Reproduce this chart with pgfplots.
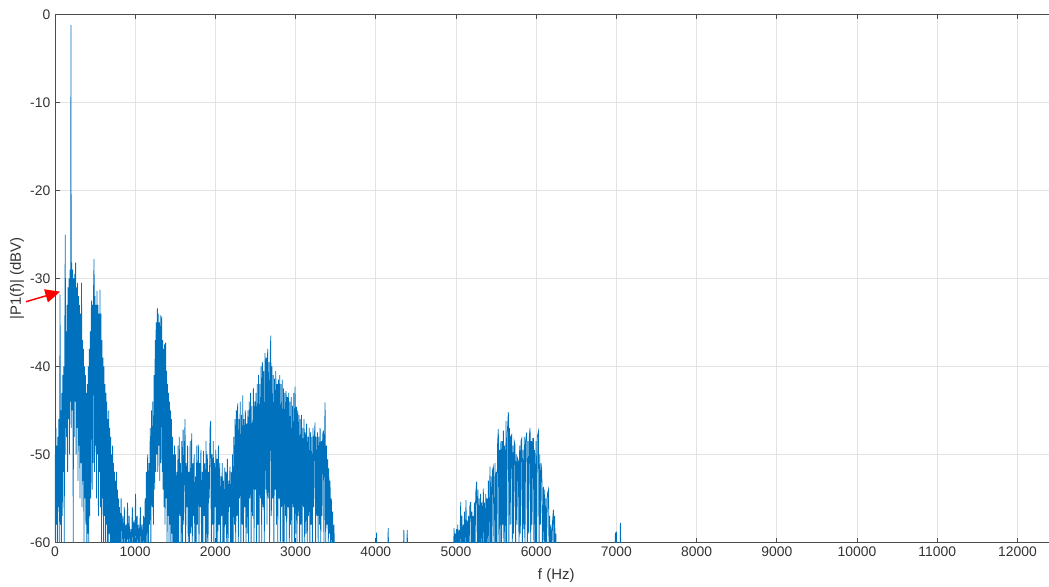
\documentclass[border=0pt]{standalone}
\usepackage{fontspec}
\setmainfont{Liberation Sans}
\usepackage{pgfplots}
\pgfplotsset{compat=1.18}
\usetikzlibrary{arrows.meta}
\definecolor{mblue}{RGB}{0,114,189}
\begin{document}
\begin{tikzpicture}
\path[use as bounding box, clip] (-41.2pt,-33.5pt) rectangle (745.5pt,406.7pt);
\begin{axis}[
  at={(0,0)}, anchor=south west,
  scale only axis, width=751.9pt, height=395.7pt,
  xmin=0, xmax=12500, ymin=-60, ymax=0,
  xtick={0,1000,...,12000}, ytick={-60,-50,...,0},
  scaled ticks=false,
  /pgf/number format/1000 sep={},
  /pgf/number format/assume math mode=true,
  grid=major, major grid style={color=black!11, line width=0.5pt},
  axis line style={color=black!70, line width=0.6pt},
  tick align=inside, major tick length=3.5pt,
  tick style={color=black!70, line width=0.6pt},
  tick label style={font=\fontsize{10.4}{12}\selectfont, color=black!80},
  label style={font=\fontsize{11.2}{13}\selectfont, color=black!80},
  xlabel={f (Hz)}, ylabel={|P1(f)| (dBV)},
  xlabel style={at={(axis description cs:0.5,0)}, anchor=center, yshift=-25.3pt},
  ylabel style={at={(axis description cs:0,0.5)}, anchor=center, yshift=28.5pt},
  clip mode=individual,
]
\addplot[color=mblue, line width=0.58pt, mark=none] coordinates {
(0,-50)(6,-60.5)(12,-47)(18,-58)(24,-49)(30,-61)(36,-48)(42,-56)(48,-46)(54,-60.5)(60,-44)(64,-31.8)(68,-58)(74,-45)(80,-60.5)(86,-43)(92,-57)(98,-41)(104,-52)(110,-40)(116,-60.5)(122,-38)(129,-25)(134,-50)(140,-36)(146,-48)(152,-33)(158,-52)(164,-31)(170,-46)(176,-30)(182,-50)(188,-29)(194,-44)(200,-1.2)(204,-47)(210,-28.2)(216,-45)(222,-29)(228,-60.5)(234,-30)(240,-48)(246,-29.5)(252,-44)(258,-28.2)(264,-50)(270,-31)(276,-47)(282,-30.5)(288,-53)(294,-32)(300,-49)(306,-33)(312,-55)(318,-34)(324,-51)(332,-30.5)(338,-56)(344,-37)(350,-53)(356,-38)(362,-60.5)(368,-40)(374,-55)(380,-41)(386,-58)(392,-43)(398,-60.5)(404,-42)(410,-59)(416,-40)(422,-61)(428,-38)(434,-57)(440,-36)(446,-55)(452,-34)(458,-32.5)(464,-54)(470,-33)(476,-51)(482,-31)(488,-27.8)(494,-52)(500,-32)(506,-49)(512,-33)(518,-55)(524,-31.4)(530,-50)(536,-33)(542,-57)(548,-34)(554,-52)(562,-31.3)(568,-56)(575,-34)(581,-60.5)(587,-37)(593,-55)(599,-39)(605,-60.5)(611,-40)(617,-57)(623,-42)(629,-61)(635,-43)(641,-58)(647,-44)(653,-60.5)(659,-46)(665,-61)(671,-45)(677,-59)(683,-47)(689,-61)(695,-48)(701,-60.5)(707,-50)(713,-61)(719,-49)(725,-60.5)(731,-51)(737,-61)(743,-52)(749,-60.5)(755,-53)(761,-61)(767,-52)(773,-60.5)(779,-54)(785,-61)(791,-55)(797,-60.5)
(805,-56)(815,-61)(825,-55)(835,-60.5)(845,-57)(855,-61)(865,-56)(875,-61)(885,-58)(895,-60.5)(905,-55.5)(915,-61)(925,-57)(935,-61)(945,-58.5)(955,-60.5)(965,-56)(975,-61)(985,-57.5)(995,-61)(1005,-54.5)(1015,-61)(1025,-57)(1035,-61)(1045,-58)(1055,-60.5)(1065,-56)(1075,-61)(1085,-58)(1095,-61)(1105,-57)(1115,-61)(1125,-55)
(1132,-61)(1140,-52)(1148,-60.5)(1156,-50)(1164,-61)(1172,-51)(1180,-58)(1188,-47)(1196,-60.5)(1204,-45)(1212,-56)(1220,-44)(1228,-58)(1236,-41)(1244,-54)(1250,-37)(1256,-52)(1262,-35)(1268,-50)(1277,-33.4)(1283,-52)(1289,-34)(1295,-49)(1301,-35)(1307,-53)(1313,-34.2)(1319,-51)(1325,-36)(1331,-34.3)(1337,-52)(1343,-37)(1349,-54)(1355,-38)(1361,-56)(1367,-37.5)(1373,-58)(1380,-37.3)(1386,-55)(1392,-40.5)(1398,-60.5)(1404,-42)(1410,-57)(1416,-43)(1422,-61)(1428,-44)(1434,-58)(1440,-45)(1446,-61)(1452,-46)(1458,-59)(1464,-48)(1470,-61)(1477,-50)(1483,-60.5)(1490,-49)(1497,-61)
(1503,-50)(1510,-61)(1518,-52)(1526,-60.5)(1534,-49)(1542,-61)(1550,-48)(1558,-57)(1566,-51)(1574,-61)(1582,-48.5)(1590,-60.5)(1598,-47.2)(1606,-58)(1614,-50)(1622,-46)(1630,-61)(1638,-51)(1646,-56)(1654,-49)(1662,-61)(1670,-52)(1678,-60.5)(1686,-48.5)(1694,-59)(1705,-47.6)(1712,-61)(1720,-51)(1728,-57)(1736,-50)(1744,-61)(1752,-52.5)(1760,-60.5)(1768,-49)(1776,-58)(1788,-48.9)(1796,-61)(1804,-51)(1812,-56)(1820,-49.5)(1828,-61)(1836,-52)(1844,-60.5)(1852,-49.6)(1860,-57)(1868,-51)(1876,-61)(1884,-48.5)(1892,-60)(1900,-50)(1908,-61)(1916,-52)(1924,-55)(1934,-47)(1942,-46.2)(1950,-61)(1958,-50)(1966,-58)(1974,-48.5)(1982,-61)(1990,-51)(1998,-56)(2006,-49.5)(2014,-61)(2022,-50.5)(2030,-60.5)(2038,-49)(2046,-58)(2054,-51)(2062,-61)(2070,-52.5)(2078,-57)(2086,-51)(2094,-60.5)(2102,-53)(2110,-61)(2118,-51.5)(2126,-58)(2134,-52)(2142,-61)(2150,-50.5)(2158,-60.5)(2166,-53)(2174,-56)(2182,-51.4)(2190,-61)(2198,-52)(2206,-60)(2214,-50)(2222,-61)(2230,-48)(2238,-58)(2246,-46)(2254,-61)
(2262,-45)(2270,-57)(2278,-44.2)(2286,-61)(2294,-46)(2302,-55)(2310,-44)(2318,-60.5)(2326,-45.5)(2334,-58)(2342,-43.3)(2350,-61)(2358,-46)(2366,-56)(2374,-45)(2382,-61)(2390,-46.5)(2398,-59)(2406,-45)(2414,-61)(2422,-44)(2430,-55)(2438,-43)(2446,-60.5)(2454,-44.5)(2462,-57)(2474,-42.5)(2482,-61)(2490,-44)(2498,-54)(2506,-43)(2514,-60.5)(2522,-42)(2530,-58)(2538,-41)(2546,-61)(2554,-42)(2562,-55)(2570,-40)(2578,-60.5)(2586,-39.5)(2594,-56)(2602,-40.5)(2610,-61)(2620,-38.5)(2628,-54)(2636,-39)(2644,-58)(2652,-38)(2660,-55)(2668,-39.5)(2676,-60.5)(2684,-38.8)(2691,-36.5)(2698,-57)(2706,-40)(2714,-55)(2722,-41)(2730,-61)(2738,-41.4)(2746,-54)(2754,-40.5)(2762,-58)(2770,-42)(2778,-60.5)(2786,-41.5)(2794,-55)(2802,-41)(2810,-61)(2818,-42)(2826,-56)(2834,-41.5)(2842,-60)(2850,-42.5)(2858,-61)(2866,-43)(2874,-57)(2882,-42.8)(2890,-60.5)(2898,-43.5)(2906,-56)(2914,-43)(2922,-61)(2930,-44)(2938,-58)(2946,-43.5)(2954,-60.5)(2962,-44.5)(2970,-56)(2978,-43)(2986,-61)(2994,-42.3)(3002,-59)(3010,-44.6)(3018,-60.5)(3026,-45)(3034,-57)(3042,-45.5)(3050,-61)(3058,-46)(3066,-58)(3074,-45.5)(3082,-60.5)(3090,-47)(3098,-56)(3106,-46)(3114,-61)(3122,-47.5)(3130,-59)(3138,-46.5)(3146,-60.5)(3154,-48)(3162,-57)(3170,-47)(3178,-61)(3186,-47.5)(3194,-58)(3202,-48)(3210,-60.5)(3218,-47)(3226,-56)(3234,-48)(3243,-46.4)(3250,-61)(3258,-48)(3266,-57)(3274,-47.5)(3282,-60.5)(3290,-48)(3298,-58)(3306,-47)(3314,-61)(3322,-48.5)(3330,-57)(3338,-47.8)(3347,-47.3)(3354,-60.5)(3362,-48)(3368,-44.1)(3376,-61)(3384,-49)(3392,-58)(3400,-50.5)(3408,-61)(3414,-51.6)(3422,-59)(3430,-53)(3438,-61)(3446,-55)(3454,-60.5)(3462,-56.5)(3470,-61)(3478,-58)(3486,-61)
(3600,-61)(4005,-61)(4010,-58.9)(4015,-61)(4150,-61)(4155,-58.4)(4160,-61)(4345,-61)(4350,-58.6)(4355,-61)(4387,-61)(4392,-58.6)(4397,-61)(4960,-61)
(4970,-61)(4976,-58.4)(4982,-61)(4990,-59)(4998,-61)(5006,-58.5)(5014,-61)(5022,-58)(5030,-61)(5040,-58.6)(5048,-61)(5059,-55.4)(5066,-61)(5074,-57)(5082,-61)(5090,-58)(5098,-61)(5106,-56.5)(5114,-61)(5125,-55.2)(5132,-61)(5140,-57.5)(5148,-61)(5156,-57)(5164,-61)(5172,-56)(5183,-55.4)(5190,-61)(5198,-56.5)(5206,-61)(5214,-57)(5222,-61)(5230,-55.5)(5238,-61)(5246,-54.5)(5258,-53.1)(5266,-61)(5274,-54)(5282,-61)(5290,-55)(5298,-60.5)(5306,-54.5)(5314,-61)(5322,-55.5)(5330,-60)(5341,-53.9)(5348,-61)(5356,-55.5)(5364,-60.5)(5372,-54.5)(5380,-61)(5388,-55)(5396,-60.5)(5404,-53)(5412,-61)(5424,-51.4)(5432,-60.5)(5440,-52.5)(5448,-61)(5456,-51.8)(5466,-51.4)(5474,-61)(5487,-51)(5494,-60.5)(5502,-52)(5510,-61)(5518,-49)(5528,-47.1)(5536,-61)(5544,-49.5)(5552,-60)(5560,-48.5)(5568,-61)(5576,-48.5)(5584,-58)(5591,-47.3)(5598,-61)(5606,-49)(5614,-60.5)(5624,-46.2)(5632,-61)(5640,-47.5)(5653,-45.2)(5660,-61)(5668,-47)(5676,-58)(5684,-48)(5694,-47.8)(5702,-61)(5710,-49)(5718,-59)(5726,-48.5)(5736,-48.9)(5744,-61)(5752,-50)(5760,-58)(5768,-50.5)(5778,-50.8)(5786,-61)(5794,-49)(5802,-59)(5810,-48.5)(5820,-48.2)(5828,-61)(5836,-49.5)(5844,-58.5)(5852,-48)(5860,-61)(5868,-48.5)(5882,-47.5)(5890,-61)(5898,-48.5)(5906,-59)(5914,-48)(5924,-47.0)(5932,-61)(5940,-48.5)(5948,-58)(5956,-48.2)(5965,-48.2)(5972,-61)(5980,-49.5)(5990,-60)(5998,-48.5)(6006,-61)(6014,-48)(6028,-47.4)(6036,-61)(6044,-50)(6052,-58)(6060,-51)(6070,-52)(6078,-61)(6090,-53.7)(6098,-60.5)(6106,-54)(6114,-61)(6122,-55)(6130,-60)(6140,-54.5)(6153,-54)(6160,-61)(6168,-57)(6176,-61)(6185,-58)(6195,-61)(6205,-57.5)(6215,-56.3)(6222,-61)(6230,-57)(6238,-61)(6245,-59)(6252,-61)
(6980,-61)(6988,-58.9)(6994,-61)(7000,-58.8)(7006,-61)(7045,-61)(7050,-57.8)(7055,-61)(12500,-61)
};
\draw[red, line width=1.1pt, -{Triangle[length=11pt,width=10pt]}] (axis cs:-360,-32.64) -- (axis cs:64,-31.5);
\end{axis}
\end{tikzpicture}
\end{document}
